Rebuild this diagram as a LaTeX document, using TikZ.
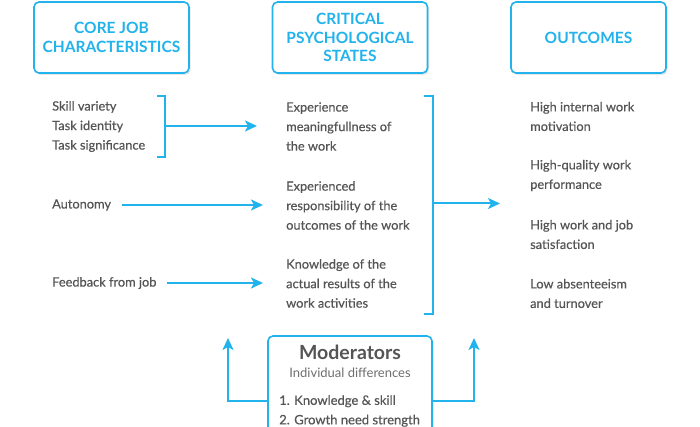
\documentclass[tikz,border=0pt]{standalone}
\usepackage{fontspec}
\setmainfont{Lato}
\newfontfamily\bodyfont{Lato}[FakeBold=0.5]
\usetikzlibrary{arrows.meta,positioning,calc,shadows}
\definecolor{skyline}{HTML}{22B2EC}
\definecolor{greytext}{HTML}{555555}
\tikzset{
head/.style={draw=skyline,rounded corners=5pt,line width=1.6pt,fill=white,align=center,minimum width=155pt,minimum height=71pt,font=\fontsize{15.5}{18.5}\selectfont\bfseries,text=skyline,drop shadow={opacity=.2,shadow xshift=1.5pt,shadow yshift=-2pt}},
item/.style={anchor=west,inner sep=0pt,align=left,font=\bodyfont\fontsize{12.8}{19.5}\selectfont,text=greytext},
arr/.style={-{Stealth[length=12pt,width=11pt,inset=3pt]},line width=2pt,draw=skyline},
bracket/.style={line width=2pt,draw=skyline}}

\begin{document}
\begin{tikzpicture}[x=1pt,y=1pt]
\useasboundingbox (0,0) rectangle (700,-427);
% headings
\node[head] (core) at (111.5,-37.5) {CORE JOB\\CHARACTERISTICS};
\node[head] (critical) at (350,-37.5) {CRITICAL\\PSYCHOLOGICAL\\STATES};
\node[head] (outcomes) at (588.5,-37.5) {OUTCOMES};
% job characteristics
\node[item] (skills) at (52,-126.5) {Skill variety\\Task identity\\Task significance};
\node[item] (autonomy) at (52,-205) {Autonomy};
\node[item] (feedback) at (52,-283) {Feedback from job};
% psychological states
\node[item] (meaning) at (286,-126.5) {Experience\\meaningfullness of\\the work};
\node[item] (respons) at (286,-205.5) {Experienced\\responsibility of the\\outcomes of the work};
\node[item] (knowledge) at (286,-283.5) {Knowledge of the\\actual results of the\\work activities};
% outcomes
\node[item] (motiv) at (530,-116.5) {High internal work\\motivation};
\node[item] (perform) at (530,-175.5) {High-quality work\\performance};
\node[item] (satisf) at (530,-234.5) {High work and job\\satisfaction};
\node[item] (absent) at (530,-293.5) {Low absenteeism\\and turnover};
% moderators
\node[draw=skyline,rounded corners=5pt,line width=1.6pt,fill=white,minimum width=164pt,minimum height=109pt,drop shadow={opacity=.2,shadow xshift=1.5pt,shadow yshift=-2pt}] (moderators) at (350,-390.5) {};
\node[font=\fontsize{19.5}{21}\selectfont\bfseries,text=greytext,inner sep=0pt] (modtitle) at (350,-352) {Moderators};
\node[font=\fontsize{13}{15}\selectfont,text=greytext!85,inner sep=0pt] (modsub) at (350,-373) {Individual differences};
\node[item,font=\bodyfont\fontsize{13}{19.5}\selectfont] (modlist) at (279,-411) {1. Knowledge \& skill\\2. Growth need strength};
% brackets and arrows
\draw[bracket] (157,-96) -- (165,-96) -- (165,-157) -- (157,-157);
\coordinate (lbr) at (165,-126);
\draw[bracket] (424,-96) -- (433,-96) -- (433,-314) -- (424,-314);
\coordinate (rbr) at (433,-203.5);
\draw[arr,shorten >=29pt] (lbr) -- (lbr -| meaning.west);
\draw[arr,shorten <=11pt,shorten >=23pt] (autonomy.east) -- (autonomy.east -| respons.west);
\draw[arr,shorten <=10pt,shorten >=23pt] (feedback.east) -- (feedback.east -| knowledge.west);
\draw[arr,shorten >=30pt] (rbr) -- (rbr -| motiv.west);
\coordinate (lup) at (228,-338);
\coordinate (rup) at (474,-338);
\draw[arr] ($(moderators.west)+(0,-10.5)$) -| (lup);
\draw[arr] ($(moderators.east)+(0,-10.5)$) -| (rup);
\end{tikzpicture}
\end{document}
